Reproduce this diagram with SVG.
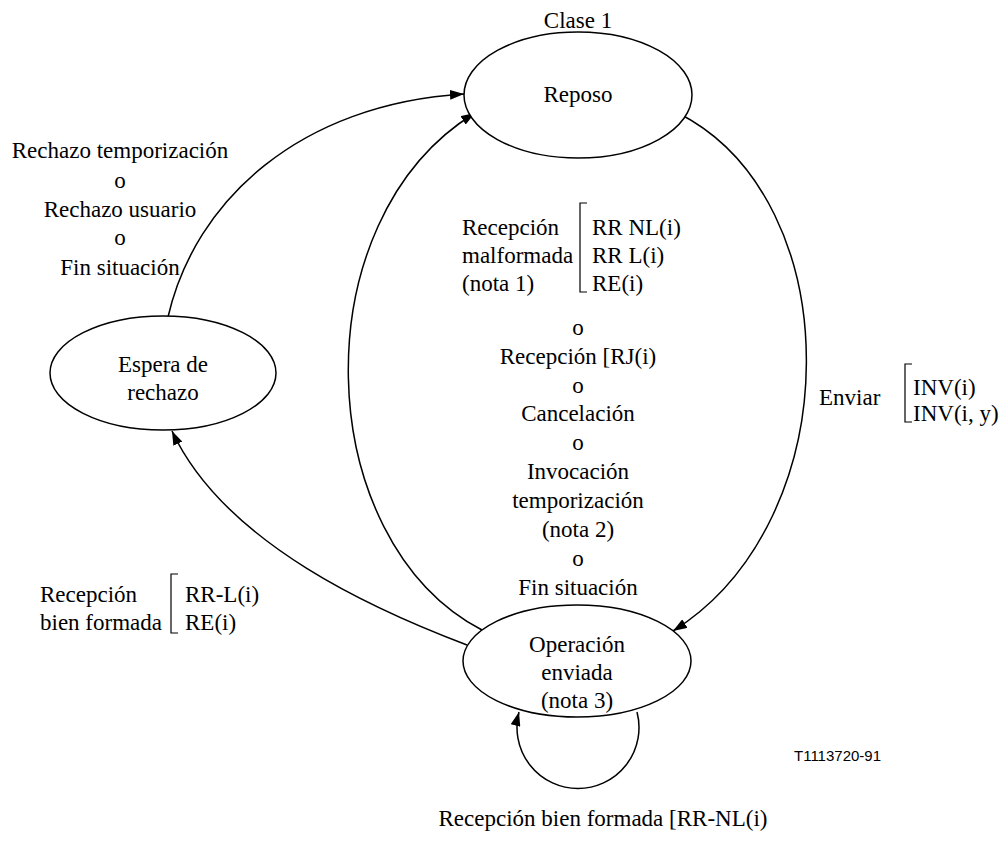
<svg xmlns="http://www.w3.org/2000/svg" width="1002" height="841" viewBox="0 0 1002 841">
  <defs>
    <marker id="arrow" viewBox="0 0 14 10" refX="14" refY="5" markerWidth="14" markerHeight="10" markerUnits="userSpaceOnUse" orient="auto">
      <path d="M0,0 L14,5 L0,10 Z" fill="#000"/>
    </marker>
    <style>
      .state { fill: #fff; stroke: #000; stroke-width: 1.5; }
      .edge { fill: none; stroke: #000; stroke-width: 1.5; marker-end: url(#arrow); }
      .brk { fill: none; stroke: #000; stroke-width: 1.2; }
      text { font-family: "Liberation Serif", "Times New Roman", serif; font-size: 23px; fill: #000; }
      .c { text-anchor: middle; }
      .ref { font-family: "Liberation Sans", Arial, sans-serif; font-size: 15px; }
    </style>
  </defs>

  <rect width="1002" height="841" fill="#fff"/>

  <!-- transitions -->
  <g id="connectors">
    <path class="edge" d="M168,317 C195,200 300,104 464,94"/>
    <path class="edge" d="M482,630 C310,540 300,220 475,113"/>
    <path class="edge" d="M678,113 C850,200 850,520 673,631"/>
    <path class="edge" d="M467,645 C380,612 225,545 172,431"/>
    <path class="edge" d="M637,712 A61,61 0 1,1 519,712"/>
  </g>

  <g id="reposo">
    <ellipse class="state" cx="578" cy="95" rx="114" ry="63"/>
    <text class="c" x="578" y="28">Clase 1</text>
    <text class="c" x="578" y="102">Reposo</text>
  </g>

  <g id="espera-rechazo">
    <ellipse class="state" cx="163" cy="373" rx="113" ry="57"/>
    <text class="c" x="163" y="372">Espera de</text>
    <text class="c" x="163" y="400">rechazo</text>
  </g>

  <g id="operacion-enviada">
    <ellipse class="state" cx="577" cy="661" rx="114" ry="56"/>
    <text class="c" x="577" y="652">Operación</text>
    <text class="c" x="577" y="680">enviada</text>
    <text class="c" x="577" y="708">(nota 3)</text>
  </g>

  <!-- label: Espera de rechazo -> Reposo -->
  <g id="label-rechazo">
    <text class="c" x="120" y="158">Rechazo temporización</text>
    <text class="c" x="120" y="188">o</text>
    <text class="c" x="120" y="217">Rechazo usuario</text>
    <text class="c" x="120" y="245">o</text>
    <text class="c" x="120" y="275">Fin situación</text>
  </g>

  <!-- label: Operación enviada -> Reposo -->
  <g id="label-vuelta-reposo">
    <text x="462" y="235">Recepción</text>
    <text x="462" y="263">malformada</text>
    <text x="462" y="291">(nota 1)</text>
    <path class="brk" d="M587,203 H580 V292 H587"/>
    <text x="592" y="235">RR NL(i)</text>
    <text x="592" y="263">RR L(i)</text>
    <text x="592" y="291">RE(i)</text>
    <text class="c" x="578" y="335">o</text>
    <text class="c" x="578" y="364">Recepción [RJ(i)</text>
    <text class="c" x="578" y="393">o</text>
    <text class="c" x="578" y="421">Cancelación</text>
    <text class="c" x="578" y="450">o</text>
    <text class="c" x="578" y="479">Invocación</text>
    <text class="c" x="578" y="508">temporización</text>
    <text class="c" x="578" y="537">(nota 2)</text>
    <text class="c" x="578" y="566">o</text>
    <text class="c" x="578" y="595">Fin situación</text>
  </g>

  <!-- label: Reposo -> Operación enviada -->
  <g id="label-enviar">
    <text x="819" y="405">Enviar</text>
    <path class="brk" d="M912,364 H905 V422 H912"/>
    <text x="913" y="395">INV(i)</text>
    <text x="913" y="421">INV(i, y)</text>
  </g>

  <!-- label: Operación enviada -> Espera de rechazo -->
  <g id="label-bien-formada">
    <text x="40" y="602">Recepción</text>
    <text x="40" y="630">bien formada</text>
    <path class="brk" d="M178,574 H171 V633 H178"/>
    <text x="185" y="602">RR-L(i)</text>
    <text x="185" y="630">RE(i)</text>
  </g>

  <!-- label: self loop -->
  <text class="c" x="603" y="826">Recepción bien formada [RR-NL(i)</text>

  <text class="ref" x="794" y="761">T1113720-91</text>
</svg>
